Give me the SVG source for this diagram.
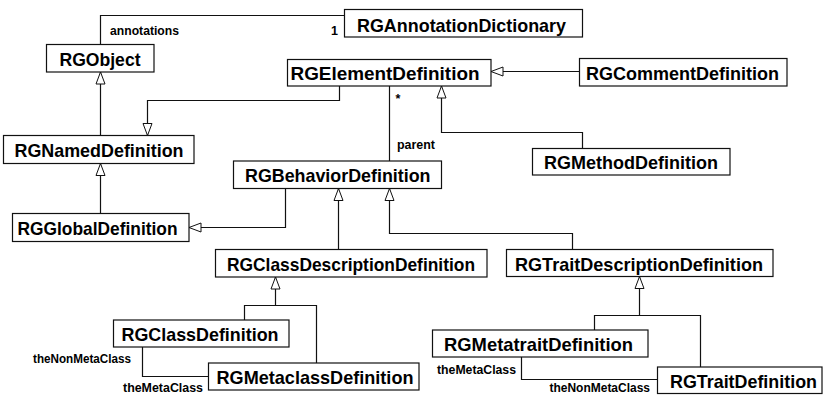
<svg xmlns="http://www.w3.org/2000/svg" width="828" height="395" viewBox="0 0 828 395">
<defs>
<marker id="gen" markerUnits="userSpaceOnUse" markerWidth="14" markerHeight="11" refX="12.5" refY="4.5" orient="auto" overflow="visible">
<path d="M0.5,0 L12.5,4.5 L0.5,9 Z" fill="#fff" stroke="#111" stroke-width="1"/>
</marker>
<style>
.box{fill:#fff;stroke:#111;stroke-width:1.2}
.name{font-family:"Liberation Sans",Arial,sans-serif;font-weight:bold;font-size:19px;fill:#000}
.lbl{font-family:"Liberation Sans",Arial,sans-serif;font-weight:bold;font-size:12.5px;fill:#000}
.c{fill:none;stroke:#111;stroke-width:1.2}
.g{marker-end:url(#gen)}
</style>
</defs>
<rect width="828" height="395" fill="#fff"/>
<g id="connectors">
<polyline class="c" points="100.5,44.5 100.5,15.5 344,15.5"/>
<line class="c g" x1="100.5" y1="135.5" x2="100.5" y2="72"/>
<polyline class="c g" points="339.5,86 339.5,100.5 147.5,100.5 147.5,135.5"/>
<line class="c g" x1="579" y1="71.5" x2="491" y2="71.5"/>
<polyline class="c g" points="582.5,148 582.5,132.5 441.5,132.5 441.5,86"/>
<line class="c" x1="389.5" y1="86" x2="389.5" y2="161"/>
<line class="c g" x1="100.5" y1="213.5" x2="100.5" y2="163.5"/>
<polyline class="c g" points="285.5,188.5 285.5,227.5 189,227.5"/>
<line class="c g" x1="338.5" y1="249.5" x2="338.5" y2="188.5"/>
<polyline class="c g" points="572.5,249.5 572.5,233.5 389.5,233.5 389.5,188.5"/>
<polyline class="c" points="244.5,320 244.5,305.5 316.5,305.5 316.5,363"/>
<line class="c g" x1="275.5" y1="305.5" x2="275.5" y2="277"/>
<polyline class="c" points="594.5,330 594.5,315.5 700.5,315.5 700.5,367"/>
<line class="c g" x1="639.5" y1="315.5" x2="639.5" y2="276.5"/>
<polyline class="c" points="142.5,347 142.5,376.5 208,376.5"/>
<polyline class="c" points="521.5,357 521.5,379.5 657,379.5"/>
</g>
<g id="labels">
<text class="lbl" x="110" y="34.5" textLength="69" lengthAdjust="spacingAndGlyphs">annotations</text>
<text class="lbl" x="331" y="34.5">1</text>
<text class="lbl" x="395.5" y="103">*</text>
<text class="lbl" x="397" y="149" textLength="38" lengthAdjust="spacingAndGlyphs">parent</text>
<text class="lbl" x="33" y="362.5" textLength="98" lengthAdjust="spacingAndGlyphs">theNonMetaClass</text>
<text class="lbl" x="123" y="391.5" textLength="80" lengthAdjust="spacingAndGlyphs">theMetaClass</text>
<text class="lbl" x="437" y="374" textLength="79" lengthAdjust="spacingAndGlyphs">theMetaClass</text>
<text class="lbl" x="549.5" y="391.5" textLength="100.5" lengthAdjust="spacingAndGlyphs">theNonMetaClass</text>
</g>
<g id="RGAnnotationDictionary"><rect class="box" x="344.5" y="9.5" width="238" height="27.5"/><text class="name" x="357" y="31.5" textLength="209" lengthAdjust="spacingAndGlyphs">RGAnnotationDictionary</text></g>
<g id="RGObject"><rect class="box" x="46.5" y="44.5" width="107.5" height="27.5"/><text class="name" x="59.5" y="65.5" textLength="81" lengthAdjust="spacingAndGlyphs">RGObject</text></g>
<g id="RGElementDefinition"><rect class="box" x="287.5" y="59.5" width="203.5" height="26.5"/><text class="name" x="290.5" y="80" textLength="189" lengthAdjust="spacingAndGlyphs">RGElementDefinition</text></g>
<g id="RGCommentDefinition"><rect class="box" x="579.5" y="58.5" width="207.5" height="27.5"/><text class="name" x="586" y="79.5" textLength="193" lengthAdjust="spacingAndGlyphs">RGCommentDefinition</text></g>
<g id="RGMethodDefinition"><rect class="box" x="532.5" y="148.5" width="197.5" height="26.5"/><text class="name" x="544" y="168.5" textLength="174" lengthAdjust="spacingAndGlyphs">RGMethodDefinition</text></g>
<g id="RGNamedDefinition"><rect class="box" x="3.5" y="135.5" width="190.5" height="28"/><text class="name" x="14.5" y="157" textLength="169" lengthAdjust="spacingAndGlyphs">RGNamedDefinition</text></g>
<g id="RGBehaviorDefinition"><rect class="box" x="233.5" y="161" width="208" height="27.5"/><text class="name" x="245" y="182" textLength="185.5" lengthAdjust="spacingAndGlyphs">RGBehaviorDefinition</text></g>
<g id="RGGlobalDefinition"><rect class="box" x="12.5" y="213.5" width="176.5" height="28"/><text class="name" x="17.5" y="235" textLength="160" lengthAdjust="spacingAndGlyphs">RGGlobalDefinition</text></g>
<g id="RGClassDescriptionDefinition"><rect class="box" x="215.5" y="249.5" width="271.5" height="27.5"/><text class="name" x="227" y="270.5" textLength="248" lengthAdjust="spacingAndGlyphs">RGClassDescriptionDefinition</text></g>
<g id="RGTraitDescriptionDefinition"><rect class="box" x="506.5" y="249.5" width="266.5" height="27"/><text class="name" x="515" y="270.5" textLength="248" lengthAdjust="spacingAndGlyphs">RGTraitDescriptionDefinition</text></g>
<g id="RGClassDefinition"><rect class="box" x="113.5" y="320" width="175.5" height="27"/><text class="name" x="121.5" y="340.5" textLength="157" lengthAdjust="spacingAndGlyphs">RGClassDefinition</text></g>
<g id="RGMetaclassDefinition"><rect class="box" x="208.5" y="363" width="210.5" height="27"/><text class="name" x="216.5" y="383.5" textLength="197" lengthAdjust="spacingAndGlyphs">RGMetaclassDefinition</text></g>
<g id="RGMetatraitDefinition"><rect class="box" x="432.5" y="330" width="215.5" height="27"/><text class="name" x="444" y="350.5" textLength="189" lengthAdjust="spacingAndGlyphs">RGMetatraitDefinition</text></g>
<g id="RGTraitDefinition"><rect class="box" x="657.5" y="367" width="164.5" height="26.5"/><text class="name" x="670" y="387.5" textLength="147" lengthAdjust="spacingAndGlyphs">RGTraitDefinition</text></g>
</svg>
